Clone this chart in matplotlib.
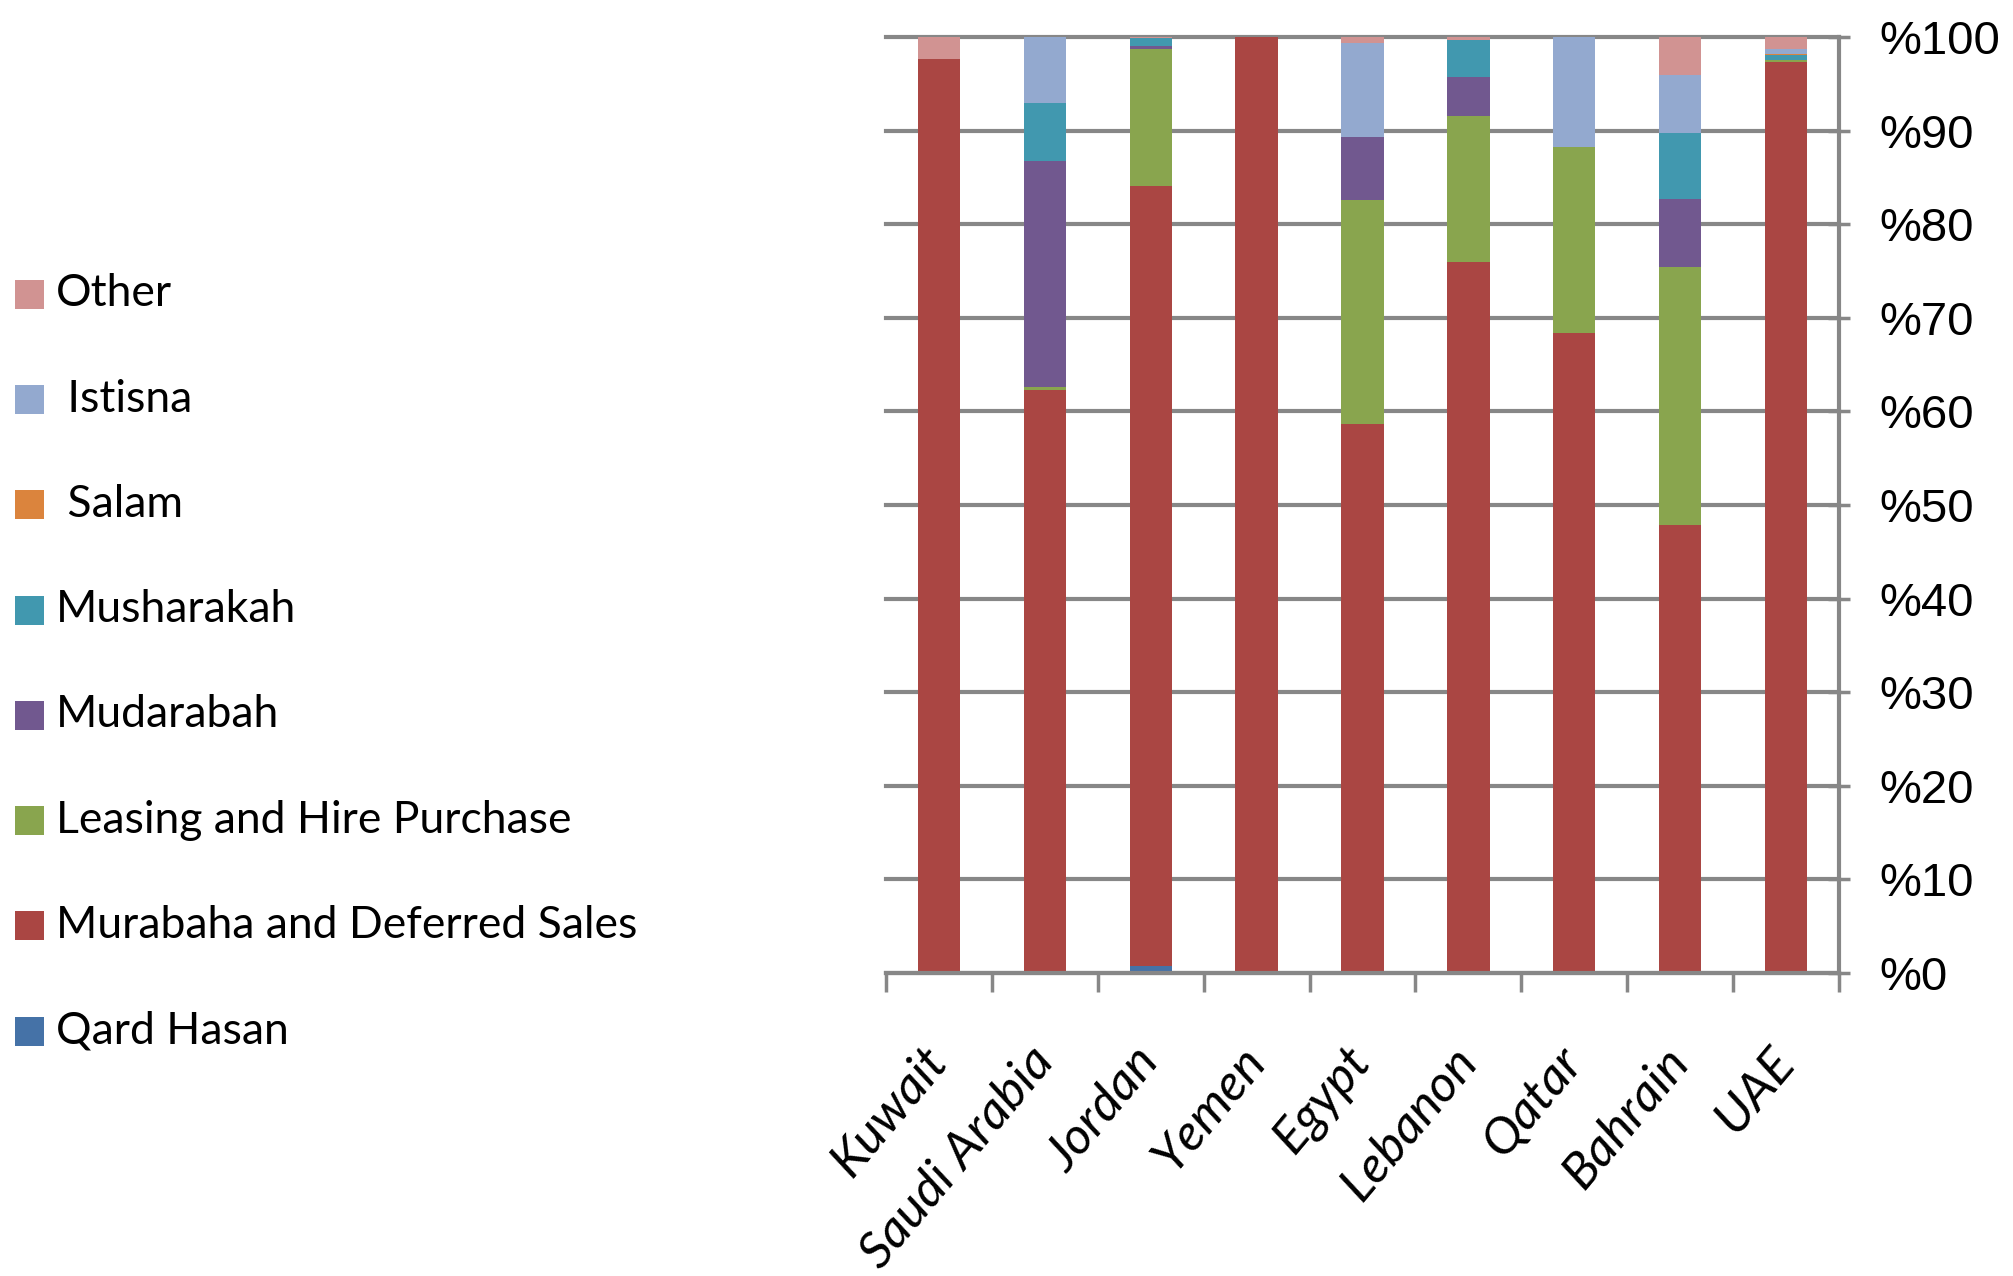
import matplotlib
matplotlib.use("Agg")
import matplotlib.pyplot as plt
from matplotlib.patches import Rectangle
import numpy as np

countries = ["Kuwait", "Saudi Arabia", "Jordan", "Yemen", "Egypt", "Lebanon", "Qatar", "Bahrain", "UAE"]
series_names = ["Qard Hasan", "Murabaha and Deferred Sales", "Leasing and Hire Purchase",
                "Mudarabah", "Musharakah", " Salam", " Istisna", "Other"]
qard_hasan = [0, 0, 0.8, 0, 0, 0, 0, 0, 0]
murabaha = [97.7, 62.3, 83.3, 100, 58.7, 76.0, 68.4, 47.9, 97.35]
leasing = [0, 0.3, 14.6, 0, 23.9, 15.6, 19.8, 27.5, 0.2]
mudarabah = [0, 24.2, 0.3, 0, 6.7, 4.1, 0, 7.3, 0]
musharakah = [0, 6.2, 0.9, 0, 0, 4.0, 0, 7.05, 0.5]
salam = [0, 0, 0, 0, 0, 0, 0, 0, 0.1]
istisna = [0, 7.1, 0, 0, 10.06, 0, 11.8, 6.2, 0.6]
other = [2.3, 0, 0.1, 0, 0.64, 0.3, 0, 4.1, 1.2]
ytick_vals = [0, 10, 20, 30, 40, 50, 60, 70, 80, 90, 100]
ytick_labels = ["%0", "%10", "%20", "%30", "%40", "%50", "%60", "%70", "%80", "%90", "%100"]

colors = ["#4572A7", "#AA4643", "#89A54E", "#71588F", "#4198AF", "#DB843D", "#93A9CF", "#D19392"]
series = [qard_hasan, murabaha, leasing, mudarabah, musharakah, salam, istisna, other]

W, H = 2013, 1276
fig = plt.figure(figsize=(W / 100, H / 100), dpi=100)
ax = fig.add_axes([886 / W, 1 - 973 / H, (1839 - 886) / W, (973 - 37) / H])

x = np.arange(len(countries))
bottom = np.zeros(len(countries))
for vals, c in zip(series, colors):
    v = np.array(vals, dtype=float)
    ax.bar(x, v, width=0.4, bottom=bottom, color=c, linewidth=0, zorder=3)
    bottom += v

grey = "#878787"
ax.set_xlim(-0.5, len(countries) - 0.5)
ax.set_ylim(0, 100)
ax.set_yticks(ytick_vals)
ax.set_yticklabels(ytick_labels, fontfamily="Liberation Sans", fontsize=34)
ax.yaxis.tick_right()
ax.yaxis.grid(True, color=grey, linewidth=3.0, zorder=0)
for gl in ax.get_ygridlines():
    gl.set_clip_on(False)
ax.set_axisbelow(True)

for s in ["left", "top"]:
    ax.spines[s].set_visible(False)
for s in ["bottom", "right"]:
    ax.spines[s].set_color(grey)
    ax.spines[s].set_linewidth(3.0)
    ax.spines[s].set_zorder(4)

ax.tick_params(axis="y", direction="inout", length=16, width=2.5, color=grey, pad=21)
ax.set_xticks(np.arange(len(countries) + 1) - 0.5, minor=True)
ax.set_xticks(x)
ax.tick_params(axis="x", which="minor", direction="out", length=14, width=2.5, color=grey)
ax.tick_params(axis="x", which="major", length=0, pad=58)
ax.set_xticklabels(countries, rotation=50, ha="right", va="center", rotation_mode="anchor",
                   fontfamily="Lato", fontstyle="italic", fontsize=37)

# Legend (drawn in figure coordinates, top entry = last series)
centers_y = [294, 399.3, 504.6, 610, 715, 820.5, 925.8, 1031]
for i, (name, c) in enumerate(zip(series_names[::-1], colors[::-1])):
    cy = centers_y[i]
    fig.patches.append(Rectangle((15 / W, 1 - (cy + 14.5) / H), 29 / W, 29 / H,
                                 transform=fig.transFigure, facecolor=c, edgecolor="none"))
    fig.text(56 / W, 1 - cy / H, name, fontfamily="Lato", fontsize=32, va="center", ha="left")

fig.savefig("out.png", dpi=100, facecolor="white")
